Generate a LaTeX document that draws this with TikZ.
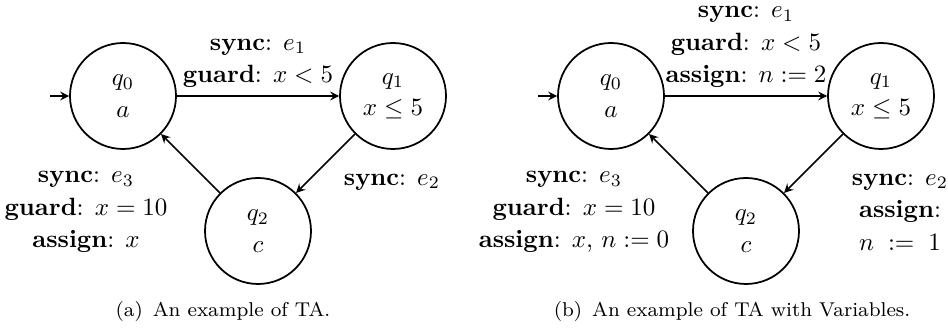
\documentclass[tikz,border=0pt]{standalone}
\usepackage{amsmath,amssymb}
\usepackage{tikz}
\usetikzlibrary{arrows.meta}
\tikzset{loc/.style={circle,draw,line width=.7pt,minimum size=42.4pt,inner sep=0pt,align=center,
           font=\fontsize{10}{12.5}\selectfont},
         trans/.style={-{Stealth[length=3.6pt,width=3.6pt,inset=1.3pt]},line width=.6pt},
         lbl/.style={align=center,inner sep=0pt,font=\fontsize{10}{13}\selectfont},
         subcap/.style={font=\footnotesize,inner sep=0pt}}

\begin{document}
\begin{tikzpicture}[x=.4pt,y=-.4pt]
  \useasboundingbox (0,0) rectangle (948,331);
  % (a) TA
  \node[loc] (a0) at (123,96) {$q_0$\\$a$};
  \node[loc] (a1) at (393,96) {$q_1$\\$x \le 5$};
  \node[loc] (a2) at (258,231) {$q_2$\\$c$};
  \coordinate (ai) at (50,96);
  \draw[trans] (ai) -- (a0);
  \draw[trans] (a0) -- node[lbl,above=3pt] (ae1) {\textbf{sync}: $e_1$\\\textbf{guard}: $x < 5$} (a1);
  \draw[trans] (a1) -- (a2);
  \draw[trans] (a2) -- (a0);
  \node[lbl] (ae2) at (392,182) {\textbf{sync}: $e_2$};
  \node[lbl] (ae3) at (86,212) {\textbf{sync}: $e_3$\\\textbf{guard}: $x = 10$\\\textbf{assign}: $x$};
  \node[subcap] (acap) at (223,312) {(a)\enspace An example of TA.};
  % (b) TA with variables
  \node[loc] (b0) at (611,96) {$q_0$\\$a$};
  \node[loc] (b1) at (881,96) {$q_1$\\$x \le 5$};
  \node[loc] (b2) at (746,231) {$q_2$\\$c$};
  \coordinate (bi) at (538,96);
  \draw[trans] (bi) -- (b0);
  \draw[trans] (b0) -- node[lbl,above=3pt] (be1) {\textbf{sync}: $e_1$\\\textbf{guard}: $x < 5$\\\textbf{assign}: $n := 2$} (b1);
  \draw[trans] (b1) -- (b2);
  \draw[trans] (b2) -- (b0);
  \node[lbl] (be2) at (900,212) {\textbf{sync}: $e_2$\\\textbf{assign}:\\$n \;:=\; 1$};
  \node[lbl] (be3) at (574,212) {\textbf{sync}: $e_3$\\\textbf{guard}: $x = 10$\\\textbf{assign}: $x$, $n := 0$};
  \node[subcap] (bcap) at (732,312) {(b)\enspace An example of TA with Variables.};
\end{tikzpicture}
\end{document}
